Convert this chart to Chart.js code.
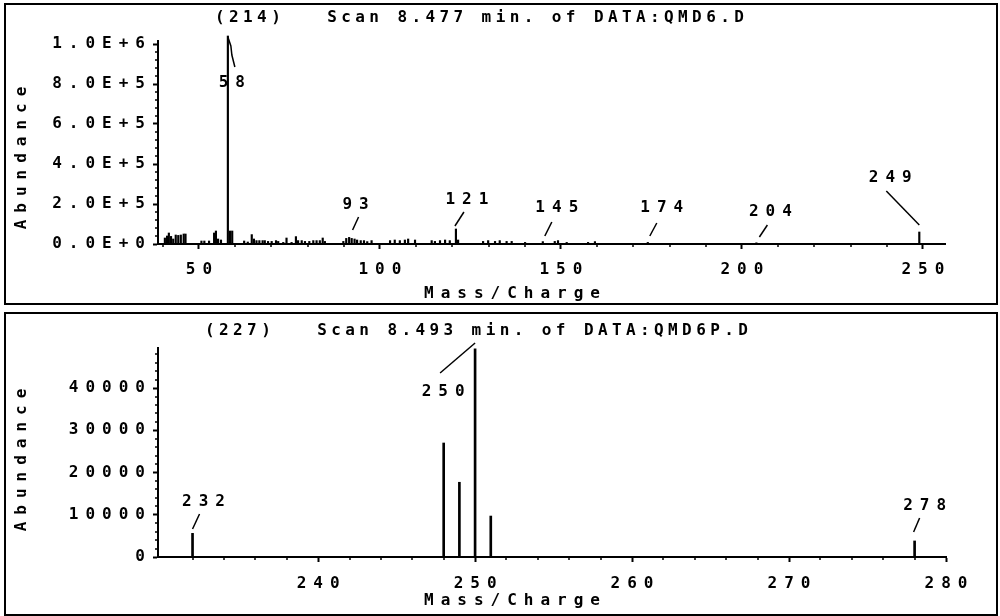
<!DOCTYPE html>
<html>
<head>
<meta charset="utf-8">
<script src="https://cdn.jsdelivr.net/npm/chart.js@4.4.0/dist/chart.umd.min.js"></script>
<style>
  html, body { margin: 0; padding: 0; background: #fff; }
  body { width: 1000px; height: 616px; position: relative; overflow: hidden; }
  canvas { position: absolute; left: 0; }
  .frame { position: absolute; left: 4px; width: 994px; border: 2px solid #000; box-sizing: border-box; pointer-events: none; z-index: 2; }
</style>
</head>
<body>
<div class="frame" style="top:3px;height:302px"></div>
<div class="frame" style="top:312px;height:304px"></div>
<canvas id="scan214" width="1000" height="308" style="top:0"></canvas>
<canvas id="scan227" width="1000" height="308" style="top:308px"></canvas>
<script>
const FONT = "'DejaVu Sans Mono', 'Liberation Mono', monospace";

// scan 214 (top panel)
const massA = [40.6, 41.2, 41.7, 42.3, 42.9, 43.6, 44.3, 45.0, 45.8, 46.3,
  50.7, 51.5, 52.8, 54.2, 54.7, 55.3, 56.1, 58, 58.6, 59.2,
  62.5, 63.5, 64.6, 65.2, 65.9, 66.7, 67.6, 68.2, 69.1, 70.1,
  71.3, 71.9, 73.3, 74.2, 75.6, 76.8, 77.4, 78.4, 79.3, 80.5,
  81.6, 82.5, 83.4, 84.2, 84.8, 89.9, 90.7, 91.5, 92.2, 93,
  93.7, 94.7, 95.6, 96.5, 97.7, 102.8, 104.1, 105.5, 106.9, 107.8,
  109.7, 114.3, 115.2, 116.6, 118.0, 119.3, 121, 121.6, 128.5, 129.9,
  131.8, 133.1, 135.0, 136.4, 140.1, 145, 148.3, 149.2, 151.6, 157.5,
  159.4, 174, 204, 249];
const abundA = [30000, 40000, 55000, 38000, 25000, 45000, 43000, 45000, 50000, 50000,
  15000, 15000, 15000, 55000, 65000, 25000, 20000, 1040000, 65000, 65000,
  15000, 10000, 47000, 25000, 17000, 17000, 17000, 17000, 13000, 13000,
  17000, 13000, 8000, 30000, 8000, 37000, 17000, 17000, 13000, 13000,
  17000, 17000, 17000, 30000, 13000, 13000, 28000, 33000, 28000, 25000,
  20000, 17000, 17000, 12000, 17000, 17000, 20000, 17000, 20000, 25000,
  20000, 17000, 13000, 17000, 20000, 17000, 75000, 20000, 13000, 17000,
  13000, 17000, 13000, 13000, 8000, 12000, 13000, 17000, 8000, 8000,
  12000, 8000, 6000, 60000];
const xTicksA = [50, 100, 150, 200, 250];
const yTicksA = [0, 200000, 400000, 600000, 800000, 1000000];
const peakLabelsA = [58, 93, 121, 145, 174, 204, 249];

// scan 227 (bottom panel)
const massB = [232, 248, 249, 250, 251, 278];
const abundB = [5600, 27000, 17700, 49300, 9700, 3800];
const xTicksB = [240, 250, 260, 270, 280];
const yTicksB = [0, 10000, 20000, 30000, 40000];
const peakLabelsB = [232, 250, 278];

// label/leader offsets from the foot of each labelled peak (px)
const leadersA = [
  { label: [4, -161], line: [[0, -207], [3, -198], [4, -189], [7, -177]] },
  { label: [1, -39], line: [[-2, -14], [4, -27]] },
  { label: [11, -44], line: [[-1, -18], [8, -32]] },
  { label: [14, -36], line: [[2, -8], [9, -22]] },
  { label: [14, -36], line: [[2, -8], [9, -21]] },
  { label: [14, -32], line: [[3, -7], [11, -19]] },
  { label: [-29, -66], line: [[-33, -53], [0, -19]] },
];
const leadersB = [
  { label: [11, -55], line: [[0, -28], [7, -43]] },
  { label: [-32, -165], line: [[-35, -184], [0, -214]] },
  { label: [10, -51], line: [[-1, -25], [5, -39]] },
];

const TICK_LS = 7;
const WEIGHT = "bold";

function makePlotter(p) {
  return {
    id: "plotter",
    beforeLayout(chart) { chart.ctx.letterSpacing = TICK_LS + "px"; },
    beforeDraw(chart) { chart.ctx.letterSpacing = TICK_LS + "px"; },
    afterDraw(chart) {
      const { ctx } = chart;
      const x = chart.scales.x, y = chart.scales.y;
      ctx.save();
      ctx.strokeStyle = "#000";
      ctx.fillStyle = "#000";

      // minor ticks
      ctx.lineWidth = 1.5;
      ctx.beginPath();
      for (let v = Math.ceil(p.xMin / p.xMinor) * p.xMinor; v <= p.xMax; v += p.xMinor) {
        if (v % p.xMajor === 0) continue;
        const px = Math.round(x.getPixelForValue(v));
        ctx.moveTo(px, y.bottom);
        ctx.lineTo(px, y.bottom + 3);
      }
      for (let v = p.yMinor; v <= p.yMax; v += p.yMinor) {
        if (v % p.yMajor === 0) continue;
        const py = Math.round(y.getPixelForValue(v));
        ctx.moveTo(x.left, py);
        ctx.lineTo(x.left - 3, py);
      }
      ctx.stroke();

      // title
      ctx.font = WEIGHT + " 16px " + FONT;
      ctx.textBaseline = "middle";
      ctx.textAlign = "left";
      ctx.letterSpacing = "4.4px";
      ctx.fillText(p.title, p.titleX, p.titleY);

      // axis titles
      ctx.letterSpacing = "7px";
      ctx.textAlign = "center";
      ctx.fillText("Mass/Charge", 512 + 3.5, p.xTitleY);
      ctx.save();
      ctx.translate(22, p.yTitleY);
      ctx.rotate(-Math.PI / 2);
      ctx.fillText("Abundance", 3.5, 0);
      ctx.restore();

      // peak labels with leader lines
      ctx.letterSpacing = TICK_LS + "px";
      ctx.lineWidth = 1.5;
      const base = y.getPixelForValue(0);
      p.peaks.forEach((m, i) => {
        const a = p.leaders[i];
        const px = x.getPixelForValue(m);
        ctx.beginPath();
        a.line.forEach(([dx, dy], j) => {
          if (j === 0) ctx.moveTo(px + dx, base + dy);
          else ctx.lineTo(px + dx, base + dy);
        });
        ctx.stroke();
        ctx.fillText(String(m), px + a.label[0] + TICK_LS / 2, base + a.label[1]);
      });
      ctx.restore();
    },
  };
}

function makeChart(id, mass, abund, xTicks, yTicks, p) {
  const H = 308;
  return new Chart(document.getElementById(id), {
    type: "bar",
    data: {
      datasets: [{
        data: mass.map((m, i) => ({ x: m, y: abund[i] })),
        backgroundColor: "#000",
        borderWidth: 0,
        barThickness: p.barWidth,
        grouped: false,
        clip: false,
      }],
    },
    options: {
      responsive: false,
      animation: false,
      devicePixelRatio: 1,
      layout: { padding: { left: 0, top: p.area.top, right: 1000 - p.area.right, bottom: 0 } },
      plugins: { legend: { display: false }, tooltip: { enabled: false }, title: { display: false } },
      scales: {
        x: {
          type: "linear",
          offset: false,
          min: p.xMin,
          max: p.xMax,
          afterBuildTicks: (s) => { s.ticks = xTicks.map((v) => ({ value: v })); },
          afterFit: (s) => { s.height = H - p.area.bottom; },
          grid: { display: true, offset: false, drawOnChartArea: false, drawTicks: true, tickLength: 5, tickWidth: 2, tickColor: "#000" },
          border: { display: true, color: "#000", width: 2 },
          ticks: {
            color: "#000",
            font: { family: FONT, size: 16, weight: WEIGHT },
            padding: p.xTickPad,
            maxRotation: 0,
            autoSkip: false,
            labelOffset: TICK_LS / 2,
            callback: (v) => String(v),
          },
        },
        y: {
          min: 0,
          max: p.yMax,
          afterBuildTicks: (s) => { s.ticks = yTicks.map((v) => ({ value: v })); },
          afterFit: (s) => { s.width = p.area.left; },
          grid: { display: true, drawOnChartArea: false, drawTicks: true, tickLength: 5, tickWidth: 2, tickColor: "#000" },
          border: { display: true, color: "#000", width: 2 },
          ticks: {
            color: "#000",
            font: { family: FONT, size: 16, weight: WEIGHT },
            padding: 1,
            autoSkip: false,
            callback: (v) => p.yLabel(v),
          },
        },
      },
    },
    plugins: [makePlotter(p)],
  });
}

makeChart("scan214", massA, abundA, xTicksA, yTicksA, {
  title: "(214)   Scan 8.477 min. of DATA:QMD6.D",
  titleX: 215, titleY: 18,
  area: { left: 158, top: 41, right: 945, bottom: 244 },
  xMin: 38.7, xMax: 256.1, yMax: 1015000,
  xMinor: 10, xMajor: 50, yMinor: 40000, yMajor: 200000,
  xTickPad: 11, xTitleY: 294, yTitleY: 158,
  barWidth: 1.5,
  yLabel: (v) => v.toExponential(1).toUpperCase(),
  peaks: peakLabelsA, leaders: leadersA,
});

makeChart("scan227", massB, abundB, xTicksB, yTicksB, {
  title: "(227)   Scan 8.493 min. of DATA:QMD6P.D",
  titleX: 205, titleY: 23,
  area: { left: 158, top: 40, right: 946, bottom: 249 },
  xMin: 229.8, xMax: 280, yMax: 49500,
  xMinor: 2, xMajor: 10, yMinor: 2000, yMajor: 10000,
  xTickPad: 12, xTitleY: 293, yTitleY: 152,
  barWidth: 2,
  yLabel: (v) => String(v),
  peaks: peakLabelsB, leaders: leadersB,
});
</script>
</body>
</html>
